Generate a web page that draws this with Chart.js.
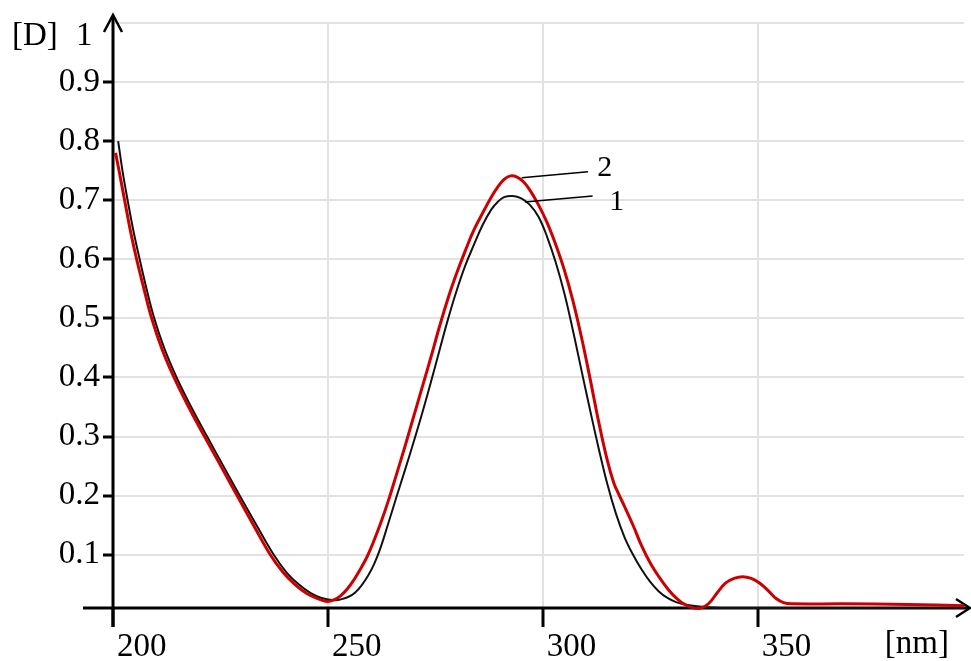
<!DOCTYPE html>
<html>
<head>
<meta charset="utf-8">
<script src="https://cdn.jsdelivr.net/npm/chart.js@4/dist/chart.umd.min.js"></script>
<style>
  html, body { margin: 0; padding: 0; background: #fff; overflow: hidden; }
</style>
</head>
<body>
<canvas id="spectrum" width="971" height="661"></canvas>
<script>
// curve 1 (black)
const curve1Nm = [201.2, 202.2, 203.4, 204.7, 206.2, 207.8, 209.6, 211.9, 214.8, 218.2, 221.9, 225.7,
  229.5, 233.4, 237.4, 240.4, 243.2, 246.0, 248.5, 251.6, 253.2, 254.8, 256.3, 257.8, 259.3, 260.8,
  262.3, 264.0, 266.0, 268.0, 270.0, 272.0, 274.0, 276.0, 278.0, 280.0, 282.0, 284.0, 286.0, 288.0,
  289.5, 291.0, 293.0, 295.0, 297.0, 299.0, 301.0, 303.0, 305.0, 307.0, 309.0, 311.0, 313.0, 315.0,
  317.0, 319.0, 321.0, 323.0, 325.0, 327.0, 329.0, 331.0, 333.0, 336.0, 339.0, 345, 360, 380, 398];
const curve1D = [0.80, 0.75, 0.70, 0.65, 0.60, 0.55, 0.50, 0.45, 0.40, 0.35, 0.30, 0.25,
  0.20, 0.15, 0.10, 0.07, 0.05, 0.035, 0.027, 0.023, 0.025, 0.029, 0.036, 0.048, 0.064, 0.085,
  0.113, 0.152, 0.199, 0.245, 0.292, 0.341, 0.393, 0.447, 0.50, 0.548, 0.590, 0.625, 0.658, 0.684,
  0.697, 0.705, 0.707, 0.703, 0.692, 0.672, 0.638, 0.595, 0.543, 0.480, 0.412, 0.345, 0.280, 0.220,
  0.170, 0.130, 0.100, 0.075, 0.054, 0.038, 0.027, 0.020, 0.016, 0.013, 0.011, 0.010, 0.010, 0.010, 0.010];

// curve 2 (red)
const curve2Nm = [200.6, 201.4, 202.7, 204.0, 205.5, 207.2, 209.0, 211.3, 214.2, 217.6, 221.3, 225.1,
  228.9, 232.7, 236.6, 239.6, 242.3, 245.0, 247.6, 249.8, 251.5, 253.0, 254.5, 256.0, 257.5, 259.0,
  260.5, 262.2, 264.0, 266.0, 268.0, 270.0, 272.0, 274.0, 276.0, 278.0, 280.0, 282.0, 284.0, 286.5,
  288.0, 289.5, 291.0, 292.5, 294.0, 295.5, 297.0, 299.0, 301.0, 303.0, 305.0, 307.0, 309.0, 311.0,
  313.0, 315.0, 316.5, 317.5, 319.0, 321.0, 323.0, 325.0, 327.0, 329.0, 331.0, 333.0, 336.0, 338.5,
  340.5, 342.5, 344.5, 346.5, 348.5, 350.5, 352.5, 354.3, 356.0, 358, 370, 385, 398];
const curve2D = [0.78, 0.75, 0.70, 0.65, 0.60, 0.55, 0.50, 0.45, 0.40, 0.35, 0.30, 0.25,
  0.20, 0.15, 0.10, 0.07, 0.05, 0.035, 0.026, 0.021, 0.024, 0.031, 0.042, 0.057, 0.075, 0.095,
  0.12, 0.152, 0.19, 0.237, 0.285, 0.335, 0.385, 0.435, 0.487, 0.535, 0.577, 0.615, 0.65, 0.685,
  0.705, 0.722, 0.735, 0.741, 0.739, 0.731, 0.717, 0.692, 0.662, 0.625, 0.582, 0.530, 0.468, 0.398,
  0.325, 0.260, 0.222, 0.205, 0.182, 0.150, 0.115, 0.086, 0.063, 0.043, 0.027, 0.016, 0.009, 0.017,
  0.035, 0.052, 0.060, 0.063, 0.060, 0.052, 0.039, 0.026, 0.019, 0.017, 0.017, 0.016, 0.014];

const xTicks = [200, 250, 300, 350];
const yTicks = [0.1, 0.2, 0.3, 0.4, 0.5, 0.6, 0.7, 0.8, 0.9, 1.0];

// curve labels with leader lines: [label, fromNm, fromD, toNm, toD, textNm, textD]
const curveTags = [
  ["1", 295.8, 0.697, 311.6, 0.707, 317.2, 0.697],
  ["2", 295.1, 0.738, 310.5, 0.748, 314.4, 0.754],
];

const SERIF = '"Liberation Serif", "Times New Roman", serif';

const toPoints = (xs, ys) => xs.map((v, i) => ({ x: v, y: ys[i] }));

const axesPlugin = {
  id: "axesPlugin",
  beforeDatasetsDraw(chart) {
    const { ctx, chartArea: a } = chart;
    const W = chart.width;
    ctx.save();
    ctx.strokeStyle = "#000";
    ctx.lineWidth = 3;
    ctx.beginPath();
    ctx.moveTo(a.left - 30, a.bottom);
    ctx.lineTo(W - 2, a.bottom);
    ctx.moveTo(a.left, a.bottom + 19);
    ctx.lineTo(a.left, 16);
    ctx.stroke();
    ctx.lineWidth = 2.5;
    ctx.beginPath();
    ctx.moveTo(a.left - 9, 32);
    ctx.lineTo(a.left, 15);
    ctx.lineTo(a.left + 9, 32);
    ctx.moveTo(W - 15, a.bottom - 9);
    ctx.lineTo(W - 1, a.bottom);
    ctx.lineTo(W - 15, a.bottom + 9);
    ctx.stroke();
    ctx.restore();
  },
  afterDatasetsDraw(chart) {
    const { ctx, scales: { x, y } } = chart;
    ctx.save();
    ctx.strokeStyle = "#000";
    ctx.fillStyle = "#000";
    ctx.lineWidth = 1.5;
    ctx.font = `30px ${SERIF}`;
    ctx.textAlign = "center";
    ctx.textBaseline = "middle";
    for (const [txt, x1, y1, x2, y2, tx, ty] of curveTags) {
      ctx.beginPath();
      ctx.moveTo(x.getPixelForValue(x1), y.getPixelForValue(y1));
      ctx.lineTo(x.getPixelForValue(x2), y.getPixelForValue(y2));
      ctx.stroke();
      ctx.fillText(txt, x.getPixelForValue(tx), y.getPixelForValue(ty));
    }
    // axis names
    ctx.font = `33px ${SERIF}`;
    ctx.textAlign = "left";
    ctx.textBaseline = "alphabetic";
    ctx.fillText("[D]", 12, 45);
    ctx.fillText("1", 76, 45);
    ctx.textAlign = "right";
    ctx.fillText("[nm]", 949, 653);
    ctx.restore();
  },
};

new Chart(document.getElementById("spectrum"), {
  type: "line",
  data: {
    datasets: [
      {
        label: "2",
        data: toPoints(curve2Nm, curve2D),
        borderColor: "#cc0000",
        borderWidth: 3,
        pointRadius: 0,
        fill: false,
        tension: 0.4,
        clip: 8,
        order: 0,
      },
      {
        label: "1",
        data: toPoints(curve1Nm, curve1D),
        borderColor: "#111",
        borderWidth: 2,
        pointRadius: 0,
        fill: false,
        tension: 0.4,
        clip: 8,
        order: 1,
      },
    ],
  },
  options: {
    responsive: false,
    devicePixelRatio: 1,
    animation: false,
    layout: { padding: { top: 18, right: 7, left: 0, bottom: 0 } },
    plugins: { legend: { display: false }, tooltip: { enabled: false } },
    scales: {
      x: {
        type: "linear",
        min: 200,
        max: 398,
        afterBuildTicks: s => { s.ticks = xTicks.map(v => ({ value: v })); },
        afterFit: s => { s.height = 53; },
        border: { display: false },
        grid: {
          color: "#e2e2e2",
          lineWidth: 2,
          tickColor: "#000",
          tickWidth: 3,
          tickLength: 19,
        },
        ticks: {
          font: { family: SERIF, size: 33 },
          color: "#000",
          align: "start",
          labelOffset: 4,
          padding: 1,
          maxRotation: 0,
          autoSkip: false,
        },
      },
      y: {
        type: "linear",
        min: 0.01,
        max: 1.0,
        afterBuildTicks: s => { s.ticks = yTicks.map(v => ({ value: v })); },
        afterFit: s => { s.width = 113; },
        border: { display: false },
        grid: {
          color: "#e2e2e2",
          lineWidth: 2,
          tickColor: c => (c.tick && c.tick.value >= 1 ? "rgba(0,0,0,0)" : "#000"),
          tickWidth: 3,
          tickLength: 10,
        },
        ticks: {
          font: { family: SERIF, size: 33 },
          color: "#000",
          padding: 3,
          autoSkip: false,
          callback: v => (v >= 1 ? "" : v.toFixed(1)),
        },
      },
    },
  },
  plugins: [axesPlugin],
});
</script>
</body>
</html>
